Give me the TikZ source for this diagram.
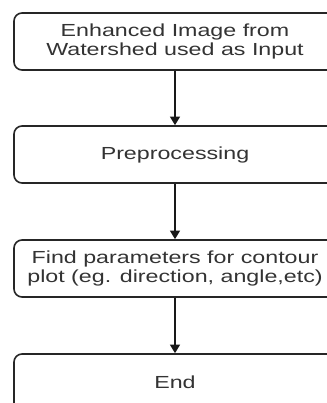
\documentclass[tikz,border=0pt]{standalone}
\usepackage{fontspec}
\setmainfont{Liberation Sans}[FakeStretch=1.33]
\usetikzlibrary{arrows.meta}

\tikzset{
	etape/.style={draw=black!85, line width=1.2pt, rounded corners=6pt, fill=white,
		minimum width=241.5pt, minimum height=42.75pt, align=center,
		text=black!80, font=\fontsize{13.1pt}{14.8pt}\selectfont},
	fleche/.style={draw=black!90, line width=1.2pt, -{Triangle[width=7.5pt,length=6.5pt]}}
}

\begin{document}
\begin{tikzpicture}[x=0.75pt, y=-0.75pt]
		\useasboundingbox (0,0) rectangle (327,403);
		\clip (0,0) rectangle (327,403);

		% Etapes
		\node[etape] at (175,41.5) (entree) {Enhanced Image from\\Watershed used as Input};
		\node[etape] at (175,154.5) (pretrait) {Preprocessing};
		\node[etape] at (175,268.5) (params) {Find parameters for contour\\plot (eg. direction, angle,etc)};
		\node[etape] at (175,382.5) (fin) {End};

		% Fleches
		\draw[fleche] (entree) -- (pretrait);
		\draw[fleche] (pretrait) -- (params);
		\draw[fleche] (params) -- (fin);

\end{tikzpicture}
\end{document}
